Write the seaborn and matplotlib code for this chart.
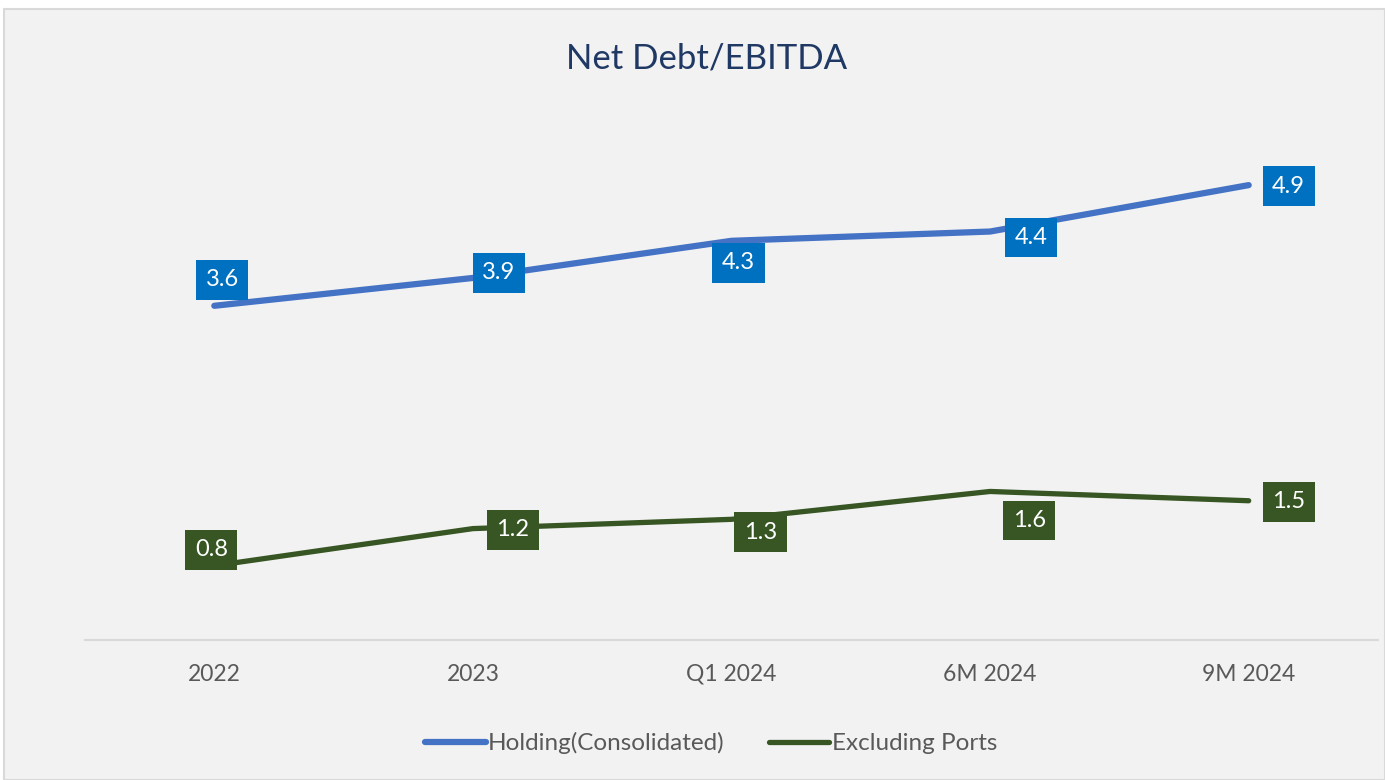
import pandas as pd
import matplotlib.pyplot as plt
import seaborn as sns
from matplotlib.patches import Rectangle

# Chart data
periods = ["2022", "2023", "Q1 2024", "6M 2024", "9M 2024"]
holding = [3.6, 3.9, 4.3, 4.4, 4.9]
excl_ports = [0.8, 1.2, 1.3, 1.6, 1.5]
series_names = ["Holding(Consolidated)", "Excluding Ports"]

line_colors = ["#4472c4", "#375623"]
box_colors = ["#0070c0", "#375623"]

# Label offsets from each point, in pixels (dx, dy up)
label_offsets = [
    [(8, 26), (26, 5), (7, -22), (41, -6), (40, -1)],
    [(-3, 16), (40, -1), (29, -13), (39, -29), (40, -1)],
]

df = pd.DataFrame({
    "Period": periods * 2,
    "Value": holding + excl_ports,
    "Series": [series_names[0]] * len(periods) + [series_names[1]] * len(periods),
})

sns.set_style("white")
plt.rcParams["font.family"] = ["Lato", "DejaVu Sans"]

fig = plt.figure(figsize=(13.85, 7.8), dpi=100)
fig.patch.set_facecolor("white")
fig.patches.append(Rectangle((4 / 1385, 0), 1 - 4 / 1385, 1 - 9 / 780, transform=fig.transFigure,
                             facecolor="#f2f2f2", edgecolor="#d9d9d9", linewidth=1.5, zorder=-10))

ax = fig.add_axes([85 / 1385, 140 / 780, (1378 - 85) / 1385, (640 - 83) / 780])
ax.set_facecolor("none")

sns.lineplot(data=df, x="Period", y="Value", hue="Series", palette=line_colors,
             sort=False, estimator=None, legend=False, ax=ax)
widths = [4.5, 3.8]
for line, lw in zip(ax.get_lines(), widths):
    line.set_linewidth(lw)
    line.set_solid_capstyle("round")

for s, values in enumerate([holding, excl_ports]):
    for i, v in enumerate(values):
        ax.annotate(f"{v:.1f}", xy=(i, v), xytext=label_offsets[s][i], textcoords="offset pixels",
                    ha="center", va="center", color="white", fontsize=17,
                    bbox=dict(boxstyle="square,pad=0.4", facecolor=box_colors[s], edgecolor="none"),
                    zorder=5)

ax.set_xlim(-0.5, len(periods) - 0.5)
ax.set_ylim(0, 6)
ax.set_xlabel("")
ax.set_ylabel("")
ax.set_yticks([])
ax.tick_params(axis="x", length=0, pad=17, labelsize=16.5, labelcolor="#595959")
for side in ["top", "left", "right"]:
    ax.spines[side].set_visible(False)
ax.spines["bottom"].set_color("#d9d9d9")
ax.spines["bottom"].set_linewidth(1.5)

fig.text(707 / 1385, 1 - 58 / 780, "Net Debt/EBITDA", ha="center", va="center",
         fontsize=25, color="#1f3864")

leg = ax.legend(ax.get_lines(), series_names, loc="center", bbox_to_anchor=(711 / 1385, 37 / 780),
                bbox_transform=fig.transFigure, ncol=2, frameon=False, fontsize=17.5,
                handlelength=2.5, handletextpad=0.1, columnspacing=1.8)
for t in leg.get_texts():
    t.set_color("#595959")

fig.savefig("out.png", dpi=100, facecolor=fig.get_facecolor())
